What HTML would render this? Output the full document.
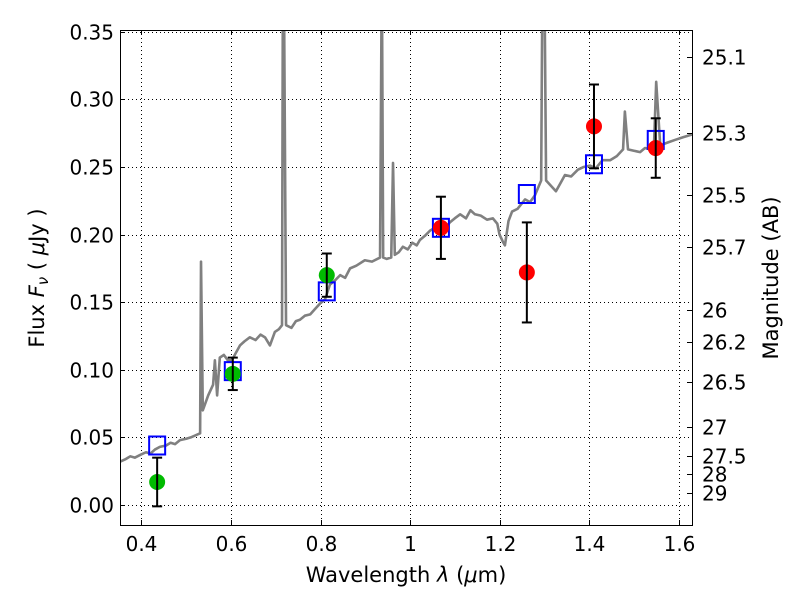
<!DOCTYPE html>
<html><head><meta charset="utf-8">
<style>
body{margin:0;background:#fff;}
svg text{font-family:"DejaVu Sans","Liberation Sans",sans-serif;fill:#000;}
</style></head>
<body>
<svg id="chart" width="800" height="600" xmlns="http://www.w3.org/2000/svg">
<rect x="0" y="0" width="800" height="600" fill="#fff"/>
<g id="grid"></g>
<g id="spec"></g>
<g id="phot"></g>
<rect x="120.5" y="30.5" width="572" height="495" fill="none" stroke="#000" stroke-width="1"/>
<g id="ticks"></g>
<text x="406" y="582" font-size="21" text-anchor="middle">Wavelength  <tspan font-style="italic">λ</tspan> (<tspan font-style="italic">μ</tspan>m)</text>
<text transform="translate(44,278) rotate(-90)" font-size="21" text-anchor="middle">Flux  <tspan font-style="italic">F<tspan font-size="15" dy="4">ν</tspan></tspan><tspan dy="-4">  (  </tspan><tspan font-style="italic">μ</tspan>Jy )</text>
<text transform="translate(778,278) rotate(-90)" font-size="21" text-anchor="middle">Magnitude (AB)</text>
</svg>
<script>
const xTicks=[0.4,0.6,0.8,1.0,1.2,1.4,1.6];
const xTickLabels=["0.4","0.6","0.8","1","1.2","1.4","1.6"];
const yTicks=[0,0.05,0.10,0.15,0.20,0.25,0.30,0.35];
const yTickLabels=["0.00","0.05","0.10","0.15","0.20","0.25","0.30","0.35"];
const magTicks=[25.1,25.3,25.5,25.7,26,26.2,26.5,27,27.5,28,29];
const magTickLabels=["25.1","25.3","25.5","25.7","26","26.2","26.5","27","27.5","28","29"];
const specWave=[0.352,0.365,0.375,0.385,0.397,0.41,0.42,0.43,0.441,0.455,0.465,0.475,0.486,0.50,0.51,0.524,0.531,0.533,0.537,0.549,0.560,0.564,0.569,0.575,0.584,0.593,0.602,0.610,0.620,0.630,0.642,0.655,0.666,0.676,0.687,0.698,0.707,0.714,0.716,0.718,0.723,0.735,0.745,0.754,0.765,0.777,0.788,0.799,0.810,0.821,0.832,0.844,0.855,0.866,0.880,0.899,0.915,0.933,0.937,0.940,0.948,0.958,0.962,0.966,0.975,0.984,0.995,1.005,1.015,1.022,1.033,1.045,1.056,1.067,1.078,1.089,1.100,1.112,1.125,1.135,1.145,1.158,1.172,1.185,1.195,1.200,1.207,1.212,1.220,1.228,1.240,1.257,1.268,1.279,1.293,1.296,1.300,1.304,1.315,1.326,1.336,1.346,1.360,1.375,1.388,1.402,1.415,1.430,1.447,1.462,1.476,1.480,1.487,1.500,1.514,1.525,1.536,1.545,1.550,1.559,1.575,1.592,1.610,1.630];
const specFlux=[0.032,0.034,0.036,0.035,0.037,0.039,0.038,0.041,0.043,0.044,0.046,0.045,0.048,0.049,0.050,0.052,0.053,0.180,0.070,0.081,0.089,0.107,0.081,0.109,0.111,0.107,0.107,0.112,0.118,0.121,0.124,0.122,0.126,0.124,0.118,0.128,0.130,0.133,0.40,0.40,0.133,0.131,0.136,0.137,0.140,0.141,0.145,0.149,0.152,0.163,0.166,0.170,0.168,0.175,0.177,0.181,0.180,0.183,0.40,0.183,0.182,0.183,0.253,0.185,0.187,0.191,0.189,0.194,0.192,0.196,0.199,0.203,0.205,0.207,0.204,0.209,0.212,0.215,0.212,0.218,0.215,0.214,0.211,0.212,0.208,0.200,0.195,0.192,0.210,0.217,0.219,0.226,0.224,0.229,0.240,0.40,0.40,0.240,0.236,0.232,0.238,0.244,0.243,0.248,0.250,0.251,0.249,0.255,0.255,0.258,0.263,0.291,0.263,0.262,0.261,0.264,0.263,0.265,0.313,0.266,0.268,0.270,0.272,0.274];
const photWave=[0.435,0.604,0.814,1.069,1.261,1.411,1.549];
const photFlux=[0.017,0.097,0.170,0.205,0.172,0.280,0.264];
const photErr=[0.018,0.012,0.016,0.023,0.037,0.031,0.022];
const modelFlux=[0.044,0.099,0.158,0.205,0.230,0.252,0.270];
const photColor=["#00bb00","#00bb00","#00bb00","#ff0000","#ff0000","#ff0000","#ff0000"];

const NS="http://www.w3.org/2000/svg";
const X0=120,X1=692,Y0=30,Y1=525,xmin=0.352,xmax=1.630,ymin=-0.0148,ymax=0.3513;
const xs=v=>X0+(v-xmin)/(xmax-xmin)*(X1-X0);
const ys=v=>Y1-(v-ymin)/(ymax-ymin)*(Y1-Y0);
function mk(tag,attrs,parent){const e=document.createElementNS(NS,tag);for(const k in attrs)e.setAttribute(k,attrs[k]);parent.appendChild(e);return e;}
const grid=document.getElementById('grid'),ticks=document.getElementById('ticks');
xTicks.forEach((t,i)=>{const x=Math.round(xs(t))+0.5;
 const g=mk('line',{x1:x,x2:x,y1:Y0,y2:Y1,stroke:'#000','stroke-dasharray':'1,3','stroke-width':1},grid);
 
 mk('line',{x1:x,x2:x,y1:Y1,y2:Y1-5,stroke:'#000'},ticks);mk('line',{x1:x,x2:x,y1:Y0,y2:Y0+5,stroke:'#000'},ticks);
 const l=mk('text',{x:x,y:Y1+26,'font-size':20,'text-anchor':'middle'},ticks);l.textContent=xTickLabels[i];
 });
yTicks.forEach((t,i)=>{const y=Math.round(ys(t))+0.5;
 const g=mk('line',{x1:X0,x2:X1,y1:y,y2:y,stroke:'#000','stroke-dasharray':'1,3','stroke-width':1},grid);
 
 mk('line',{x1:X0,x2:X0+5,y1:y,y2:y,stroke:'#000'},ticks);
 const l=mk('text',{x:X0-6,y:y+7,'font-size':20,'text-anchor':'end'},ticks);l.textContent=yTickLabels[i];
 });
magTicks.forEach((m,i)=>{const f=Math.pow(10,(23.9-m)/2.5);const y=Math.round(ys(f))+0.5;
 mk('line',{x1:X1,x2:X1-5,y1:y,y2:y,stroke:'#000'},ticks);
 const l=mk('text',{x:X1+10,y:y+7,'font-size':20},ticks);l.textContent=magTickLabels[i];
 });
const spec=document.getElementById('spec');
const cp=mk('clipPath',{id:'clip'},spec);mk('rect',{x:X0,y:Y0,width:X1-X0,height:Y1-Y0},cp);
const p=mk('polyline',{points:specWave.map((w,i)=>xs(w)+','+ys(specFlux[i])).join(' '),fill:'none',stroke:'#808080','stroke-width':2.6,'stroke-linejoin':'round','clip-path':'url(#clip)'},spec);

const phot=document.getElementById('phot');
photWave.forEach((w,i)=>{const x=xs(w);
 const s=mk('rect',{x:x-8,y:ys(modelFlux[i])-9,width:16,height:18,fill:'none',stroke:'#0000ff','stroke-width':2},phot);
 
 const c=mk('circle',{cx:x,cy:ys(photFlux[i]),r:8,fill:photColor[i]},phot);
 
 const yt=ys(photFlux[i]+photErr[i]),yb=ys(photFlux[i]-photErr[i]);
 const e=mk('g',{stroke:'#000','stroke-width':2},phot);
 
 mk('line',{x1:x,x2:x,y1:yt,y2:yb},e);mk('line',{x1:x-5,x2:x+5,y1:yt,y2:yt},e);mk('line',{x1:x-5,x2:x+5,y1:yb,y2:yb},e);});
</script>
</body></html>
